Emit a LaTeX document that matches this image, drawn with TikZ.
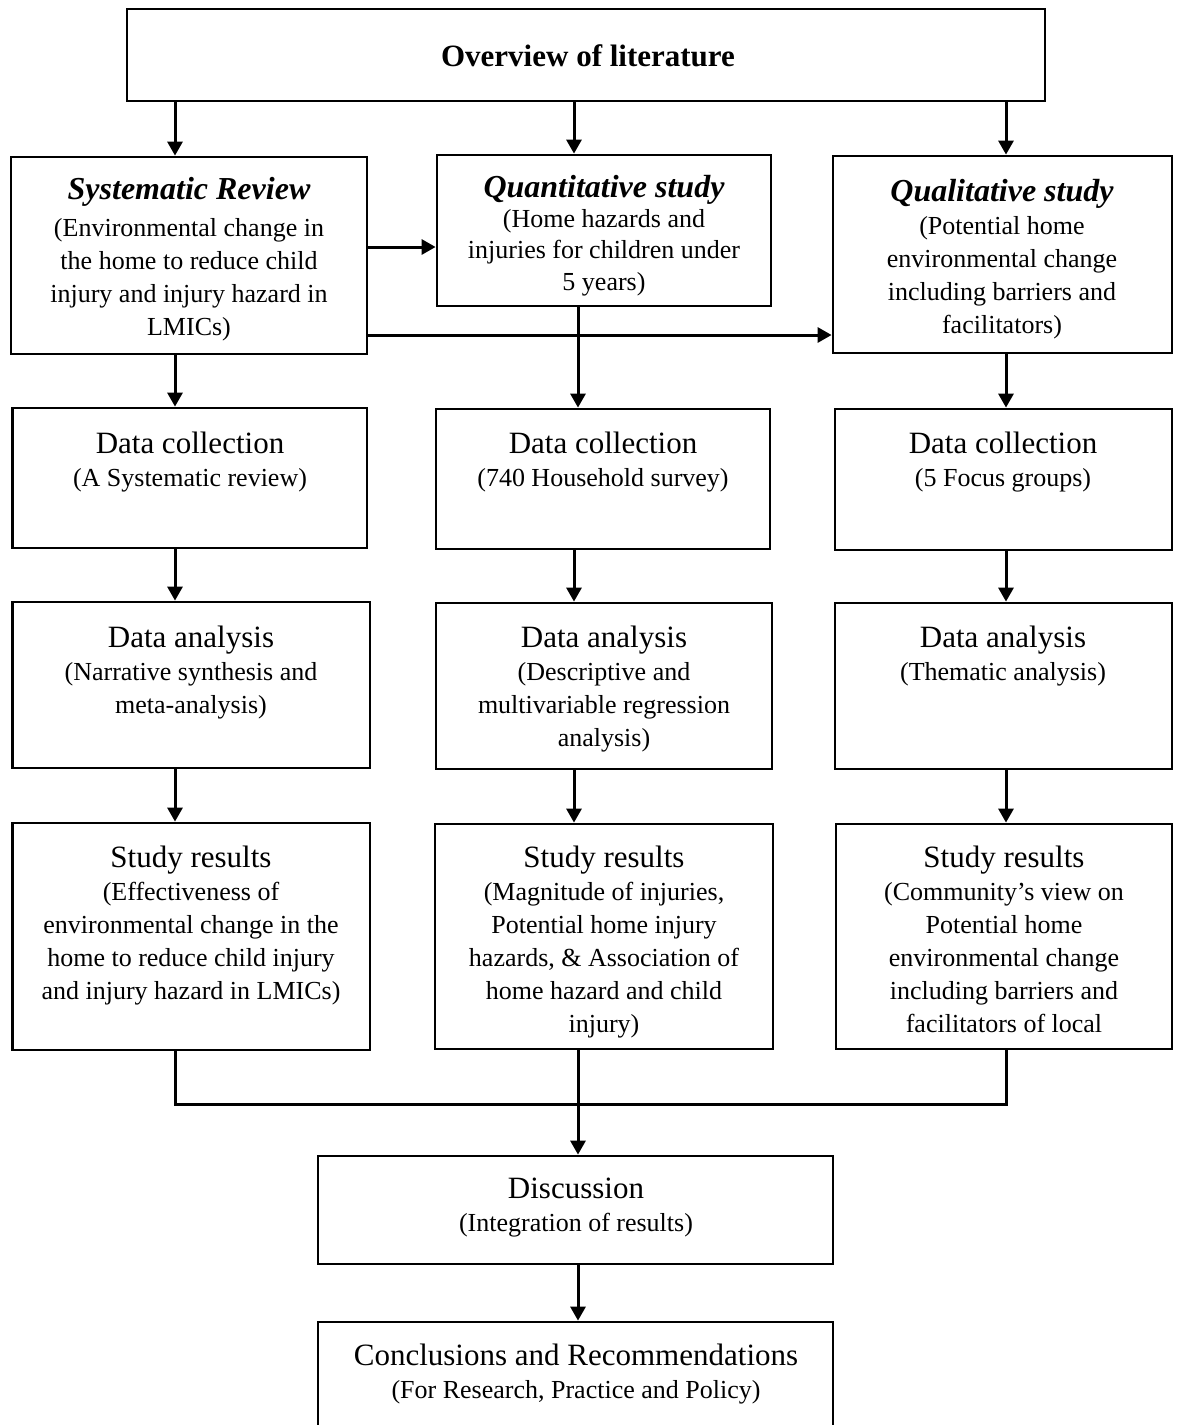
\documentclass[tikz,border=0pt]{standalone}
\usepackage{fontspec}
\setmainfont{Liberation Serif}
\usetikzlibrary{arrows.meta,fit}
\newcommand{\myhead}{\fontsize{15.5}{18}\selectfont}
\newcommand{\mytitle}{\fontsize{16}{18}\selectfont\bfseries\itshape}
\newcommand{\mybody}{\fontsize{13}{16.5}\selectfont}
\newcommand{\mybodyq}{\fontsize{13}{15.75}\selectfont}
\begin{document}
\begin{tikzpicture}[x=0.5pt,y=-0.5pt,
  box/.style={draw, line width=1.4pt, inner sep=0pt},
  txt/.style={anchor=base, inner sep=0pt},
  arr/.style={line width=1.5pt, -{Triangle[length=7pt,width=7.5pt]}},
  conn/.style={line width=1.5pt, line join=miter}]
\useasboundingbox (0,0) rectangle (1178,1425);
\clip (0,0) rectangle (1178,1425);
% boxes
\node[box, fit={(127,9) (1045,101)}] (top) {};
\node[box, fit={(11,157) (367,354)}] (sr) {};
\node[box, fit={(437,155) (771,306)}] (qn) {};
\node[box, fit={(833,156) (1172,353)}] (ql) {};
\node[box, fit={(12.6,408) (367,548)}] (dc1) {};
\node[box, fit={(436,409) (770,549)}] (dc2) {};
\node[box, fit={(835,409) (1172,550)}] (dc3) {};
\node[box, fit={(12.6,602) (370,768)}] (da1) {};
\node[box, fit={(436,603) (772,769)}] (da2) {};
\node[box, fit={(835,603) (1172,769)}] (da3) {};
\node[box, fit={(12.6,823) (370,1050)}] (rs1) {};
\node[box, fit={(435,824) (773,1049)}] (rs2) {};
\node[box, fit={(836,824) (1172,1049)}] (rs3) {};
\node[box, fit={(318,1156) (833,1264)}] (disc) {};
\node[box, fit={(318,1322) (833,1440)}] (conc) {};
% texts
\node[txt] (topt) at (588,66) {\myhead\bfseries Overview of literature};
\node[txt] (srt) at (189,199) {\parbox[t]{175pt}{\centering {\mytitle Systematic Review\par}\vspace{2pt}\mybody (Environmental change in\\ the home to reduce child\\ injury and injury hazard in\\ LMICs)}};
\node[txt] (qnt) at (604,197) {\parbox[t]{165pt}{\centering {\mytitle Quantitative study\par}\vspace{-0.7pt}\mybodyq (Home hazards and\\ injuries for children under\\ 5 years)}};
\node[txt] (qlt) at (1002,201) {\parbox[t]{168pt}{\centering {\mytitle Qualitative study\par}\mybody (Potential home\\ environmental change\\ including barriers and\\ facilitators)}};
\node[txt] (dc1t) at (190,453) {\parbox[t]{175pt}{\centering {\myhead Data collection\par}\mybody (A Systematic review)}};
\node[txt] (dc2t) at (603,453) {\parbox[t]{165pt}{\centering {\myhead Data collection\par}\mybody (740 Household survey)}};
\node[txt] (dc3t) at (1003,453) {\parbox[t]{168pt}{\centering {\myhead Data collection\par}\mybody (5 Focus groups)}};
\node[txt] (da1t) at (191,647) {\parbox[t]{175pt}{\centering {\myhead Data analysis\par}\mybody (Narrative synthesis and\\ meta-analysis)}};
\node[txt] (da2t) at (604,647) {\parbox[t]{165pt}{\centering {\myhead Data analysis\par}\mybody (Descriptive and\\ multivariable regression\\ analysis)}};
\node[txt] (da3t) at (1003,647) {\parbox[t]{168pt}{\centering {\myhead Data analysis\par}\mybody (Thematic analysis)}};
\node[txt] (rs1t) at (191,867) {\parbox[t]{175pt}{\centering {\myhead Study results\par}\mybody (Effectiveness of\\ environmental change in the\\ home to reduce child injury\\ and injury hazard in LMICs)}};
\node[txt] (rs2t) at (604,867) {\parbox[t]{165pt}{\centering {\myhead Study results\par}\mybody (Magnitude of injuries,\\ Potential home injury\\ hazards, \& Association of\\ home hazard and child\\ injury)}};
\node[txt] (rs3t) at (1004,867) {\parbox[t]{166pt}{\centering {\myhead Study results\par}\mybody (Community’s view on\\ Potential home\\ environmental change\\ including barriers and\\ facilitators of local}};
\node[txt] (disct) at (576,1198) {\parbox[t]{250pt}{\centering {\myhead Discussion\par}\mybody (Integration of results)}};
\node[txt] (conct) at (576,1365) {\parbox[t]{250pt}{\centering {\myhead Conclusions and Recommendations\par}\mybody (For Research, Practice and Policy)}};
% column coordinates
\coordinate (x1) at (175,0);
\coordinate (x2) at (574,0);
\coordinate (x2b) at (578,0);
\coordinate (x3) at (1006,0);
\coordinate (y1) at (0,247);
\coordinate (y2) at (0,335);
\coordinate (jl) at (175,1104);
\coordinate (jr) at (1006,1104);
% connectors
\draw[arr] (top.south -| x1) -- (sr.north -| x1);
\draw[arr] (top.south -| x2) -- (qn.north -| x2);
\draw[arr] (top.south -| x3) -- (ql.north -| x3);
\draw[arr] (sr.east |- y1) -- (qn.west |- y1);
\draw[arr] (sr.east |- y2) -- (ql.west |- y2);
\draw[arr] (sr.south -| x1) -- (dc1.north -| x1);
\draw[arr] (qn.south -| x2b) -- (dc2.north -| x2b);
\draw[arr] (ql.south -| x3) -- (dc3.north -| x3);
\draw[arr] (dc1.south -| x1) -- (da1.north -| x1);
\draw[arr] (dc2.south -| x2) -- (da2.north -| x2);
\draw[arr] (dc3.south -| x3) -- (da3.north -| x3);
\draw[arr] (da1.south -| x1) -- (rs1.north -| x1);
\draw[arr] (da2.south -| x2) -- (rs2.north -| x2);
\draw[arr] (da3.south -| x3) -- (rs3.north -| x3);
\draw[conn] (rs1.south -| jl) -- (jl) -- (jr) -- (rs3.south -| jr);
\draw[arr] (rs2.south -| x2b) -- (disc.north -| x2b);
\draw[arr] (disc.south -| x2b) -- (conc.north -| x2b);
\end{tikzpicture}
\end{document}
